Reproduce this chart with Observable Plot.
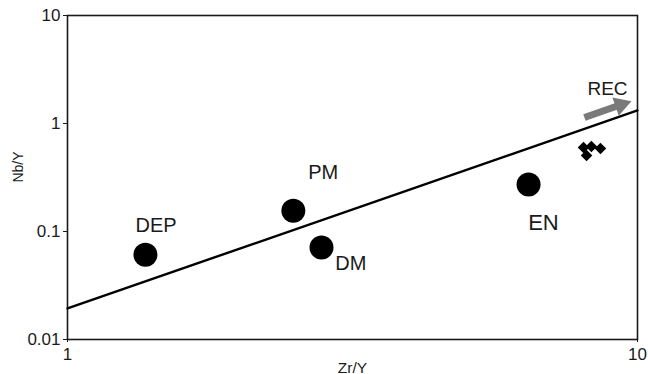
<!DOCTYPE html>
<html>
<head>
<meta charset="utf-8">
<script src="https://cdn.jsdelivr.net/npm/d3@7"></script>
<script src="https://cdn.jsdelivr.net/npm/@observablehq/plot@0.6"></script>
<style>
  html, body { margin: 0; padding: 0; background: #fff; }
  #chart svg { display: block; }
</style>
</head>
<body>
<div id="chart"></div>
<script>
// Reservoir end-members (circles)
const names = ["DEP", "PM", "DM", "EN"];
const zrY = [1.37, 2.49, 2.79, 6.44];
const nbY = [0.061, 0.156, 0.071, 0.272];
// label anchor positions (data coords)
const labelX = [1.43, 2.81, 3.14, 6.84];
const labelY = [0.114, 0.352, 0.0506, 0.121];
const labelBig = [false, false, false, true];

// Samples (diamonds)
const sampleZrY = [8.04, 8.30, 8.61, 8.14];
const sampleNbY = [0.600, 0.612, 0.587, 0.506];

// Trend line endpoints
const lineX = [1, 10];
const lineY = [0.0194, 1.32];

// REC arrow (shaft + head) and label
const recShaft = {x1: 8.07, y1: 1.137, x2: 9.35, y2: 1.49};
const recHead = {x: 9.35, y: 1.49};
const recLabel = {x: 8.86, y: 2.11, text: "REC"};

// axis ticks and titles
const xTicks = [1, 10];
const yTicks = [0.01, 0.1, 1, 10];
const xTitle = {x: 3.162, text: "Zr/Y"};
const yTitle = {y: 0.284, text: "Nb/Y"};

const circles = names.map((n, i) => ({name: n, x: zrY[i], y: nbY[i]}));
const labels = names.map((n, i) => ({name: n, x: labelX[i], y: labelY[i], big: labelBig[i]}));
const samples = sampleZrY.map((x, i) => ({x, y: sampleNbY[i]}));
const trend = lineX.map((x, i) => ({x, y: lineY[i]}));

const chart = Plot.plot({
  width: 648,
  height: 374,
  marginLeft: 67,
  marginRight: 11,
  marginTop: 15,
  marginBottom: 35,
  style: {fontFamily: "Liberation Sans, Arial, sans-serif", fontSize: "17px", color: "#1a1a1a", background: "#fff"},
  x: {type: "log", domain: [1, 10]},
  y: {type: "log", domain: [0.01, 10]},
  marks: [
    Plot.axisY({ticks: yTicks, tickFormat: d => String(d), tickSize: 4, tickPadding: 3, fontSize: 17, label: null, stroke: "#1a1a1a"}),
    Plot.axisX({ticks: xTicks, tickFormat: d => String(d), tickSize: 3, tickPadding: 5, fontSize: 17, label: null, stroke: "#1a1a1a"}),
    Plot.frame({stroke: "#1a1a1a", strokeWidth: 1.6}),
    Plot.line(trend, {x: "x", y: "y", stroke: "#000", strokeWidth: 2.4}),
    Plot.dot(circles, {x: "x", y: "y", r: 12, fill: "#000", stroke: "none"}),
    Plot.dot(samples, {x: "x", y: "y", symbol: "diamond2", r: 5.2, fill: "#000", stroke: "none"}),
    Plot.text(labels.filter(d => !d.big), {x: "x", y: "y", text: "name", fontSize: 20, fill: "#1a1a1a"}),
    Plot.text(labels.filter(d => d.big), {x: "x", y: "y", text: "name", fontSize: 22, fill: "#1a1a1a"}),
    Plot.link([recShaft], {x1: "x1", y1: "y1", x2: "x2", y2: "y2", stroke: "#7a7a7a", strokeWidth: 7}),
    Plot.dot([recHead], {x: "x", y: "y", symbol: "triangle", r: 7.2, rotate: 71, fill: "#7a7a7a", stroke: "none"}),
    Plot.text([recLabel], {x: "x", y: "y", text: "text", fontSize: 19, fill: "#1a1a1a"}),
    Plot.text([yTitle], {y: "y", text: "text", frameAnchor: "left", dx: -49, rotate: -90, fontSize: 14, fill: "#1a1a1a"}),
    Plot.text([xTitle], {x: "x", text: "text", frameAnchor: "bottom", dy: 33, fontSize: 15.5, fill: "#1a1a1a"})
  ]
});
document.getElementById("chart").appendChild(chart);
</script>
</body>
</html>
